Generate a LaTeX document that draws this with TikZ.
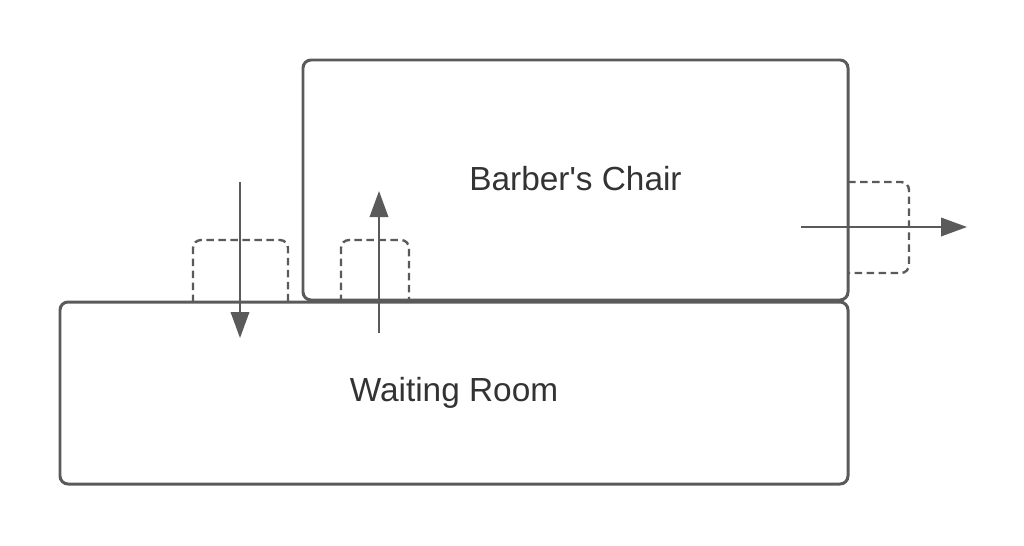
\documentclass[tikz,border=0pt]{standalone}
\usepackage{fontspec}
\setmainfont{Liberation Sans}
\usetikzlibrary{arrows.meta}
\definecolor{edge}{HTML}{5A5A5A}
\definecolor{ink}{HTML}{333333}
\tikzset{
  room/.style={draw=edge, line width=1.7pt, rounded corners=0.16cm, inner sep=0pt,
    text=ink, font=\fontsize{19}{22}\selectfont},
  door/.style={draw=edge, line width=1.35pt, dash pattern=on 0.15cm off 0.09cm, rounded corners=0.16cm},
  move/.style={draw=edge, line width=1.1pt, -{Triangle[length=0.52cm,width=0.37cm]}}
}
\begin{document}
\begin{tikzpicture}[x=0.02cm,y=-0.02cm]
\useasboundingbox (0,0) rectangle (1024,545);
% rooms
\node[room, minimum width=788*0.02cm, minimum height=182*0.02cm] (wait) at (454,393) {Waiting Room};
\node[room, minimum width=545*0.02cm, minimum height=240*0.02cm] (chair) at (575.5,180)
  {\raisebox{0.08cm}{Barber\textquotesingle s Chair}};
% doors
\draw[door] (193,302) -- (193,240) -- (288,240) -- (288,302);
\draw[door] (341,302) -- (341,240) -- (409,240) -- (409,302);
\draw[door] (848,182) -- (909,182) -- (909,273) -- (848,273);
% ends of the moves
\coordinate (in1) at (240,182);
\coordinate (in2) at (240,338);
\coordinate (up1) at (379,333);
\coordinate (up2) at (379,191);
\coordinate (out1) at (801,227);
\coordinate (out2) at (967,227);
\draw[move] (in1) -- (in2);
\draw[move] (up1) -- (up2);
\draw[move] (out1) -- (out2);
\end{tikzpicture}
\end{document}
